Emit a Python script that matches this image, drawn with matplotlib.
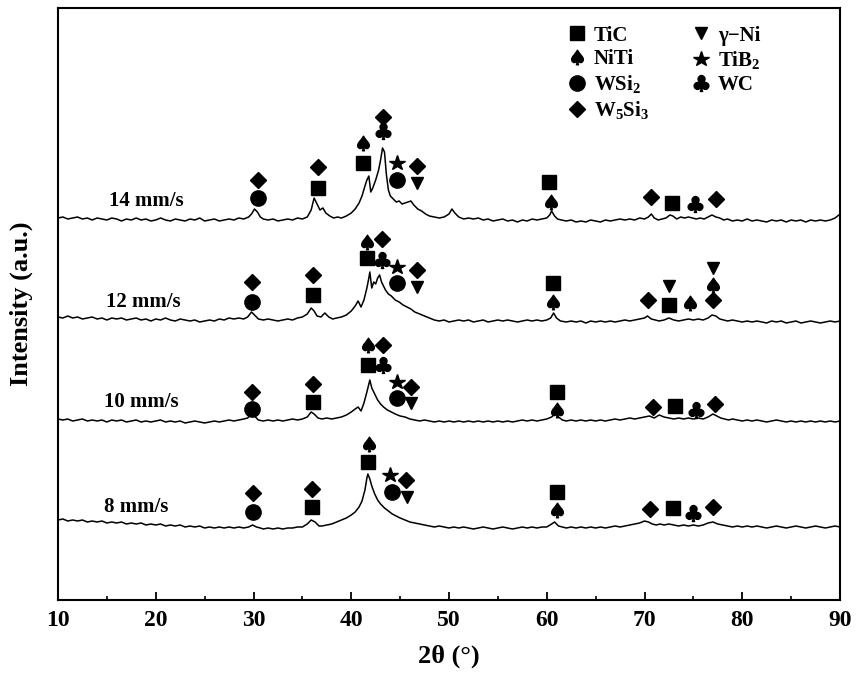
import numpy as np
import matplotlib
matplotlib.use("Agg")
import matplotlib.pyplot as plt
from matplotlib.textpath import TextPath
from matplotlib.font_manager import FontProperties
from matplotlib.path import Path
from matplotlib.lines import Line2D
from matplotlib.ticker import MultipleLocator

plt.rcParams['font.family'] = ['Liberation Serif', 'DejaVu Serif']
plt.rcParams['font.weight'] = 'bold'
plt.rcParams['mathtext.fontset'] = 'custom'
plt.rcParams['mathtext.rm'] = 'Liberation Serif:bold'
plt.rcParams['mathtext.bf'] = 'Liberation Serif:bold'
plt.rcParams['mathtext.it'] = 'Liberation Serif:bold:italic'
plt.rcParams['mathtext.default'] = 'bf'

# ---------------- data (2theta, intensity a.u.) ----------------
pts_14 = [(10,382),(10.5,383),(11,381),(11.5,382),(12,383),(12.5,381),(13,382),(13.5,380),(14,382),(14.5,381),
          (15,380),(15.5,382),(16,381),(16.5,379),(17,381),(17.5,380),(18,382),(18.5,380),(19,381),(19.5,379),
          (20,380),(20.5,382),(21,380),(21.5,379),(22,381),(22.5,380),(23,379),(23.5,381),(24,380),(24.5,382),
          (25,379),(25.5,380),(26,381),(26.5,379),(27,380),(27.5,381),(28,380),(28.5,382),(29,381),(29.5,383),
          (29.8,386),(30.1,391),(30.4,388),(30.7,383),(31,381),(31.5,380),(32,381),(32.5,379),(33,380),(33.5,381),
          (34,380),(34.5,382),(35,381),(35.5,383),(35.9,390),(36.2,402),(36.5,396),(36.8,390),(37.1,392),(37.4,387),
          (37.8,384),(38.2,382),(38.6,383),(39,382),(39.5,384),(40,387),(40.4,391),(40.8,397),(41.1,404),(41.4,414),
          (41.6,420),(41.8,424),(42.0,408),(42.2,412),(42.5,420),(42.8,430),(43.0,440),(43.2,452),(43.4,448),(43.6,425),
          (43.8,410),(44.0,404),(44.3,401),(44.6,398),(44.9,399),(45.2,396),(45.5,397),(45.8,398),(46.1,399),(46.4,395),
          (46.8,391),(47.2,389),(47.6,386),(48,384),(48.5,383),(49,382),(49.5,383),(50,386),(50.3,391),(50.6,387),
          (51,383),(51.5,381),(52,382),(52.5,381),(53,382),(53.5,380),(54,381),(54.5,379),(55,380),(55.5,381),
          (56,379),(56.5,380),(57,378),(57.5,380),(58,379),(58.5,381),(59,380),(59.5,381),(60,382),(60.3,385),
          (60.5,389),(60.8,384),(61.1,381),(61.5,380),(62,379),(62.5,380),(63,378),(63.5,379),(64,378),(64.5,380),
          (65,379),(65.5,378),(66,380),(66.5,379),(67,380),(67.5,381),(68,380),(68.5,381),(69,380),(69.5,382),
          (70,381),(70.4,383),(70.7,386),(71,382),(71.4,380),(71.8,381),(72.2,382),(72.6,385),(72.9,384),(73.3,381),
          (73.7,383),(74.1,382),(74.5,383),(74.9,382),(75.3,381),(75.7,382),(76.1,381),(76.5,383),(76.9,385),(77.3,383),
          (77.7,382),(78.1,380),(78.5,381),(79,379),(79.5,380),(80,379),(80.5,381),(81,379),(81.5,380),(82,379),
          (82.5,378),(83,380),(83.5,379),(84,380),(84.5,378),(85,380),(85.5,379),(86,380),(86.5,378),(87,380),
          (87.5,379),(88,380),(88.5,379),(89,380),(89.5,382),(90,386)]

pts_12 = [(10,283),(10.5,282),(11,284),(11.5,282),(12,283),(12.5,281),(13,282),(13.5,283),(14,281),(14.5,282),
          (15,280),(15.5,282),(16,281),(16.5,282),(17,280),(17.5,281),(18,282),(18.5,280),(19,281),(19.5,279),
          (20,281),(20.5,280),(21,282),(21.5,280),(22,279),(22.5,281),(23,280),(23.5,279),(24,280),(24.5,278),
          (25,279),(25.5,280),(26,279),(26.5,281),(27,280),(27.5,282),(28,281),(28.5,282),(29,281),(29.4,283),
          (29.8,288),(30.1,285),(30.5,281),(31,280),(31.5,281),(32,280),(32.5,279),(33,280),(33.5,281),(34,280),
          (34.5,282),(35,283),(35.5,286),(35.9,292),(36.2,289),(36.5,284),(36.9,283),(37.3,287),(37.7,283),(38.1,281),
          (38.5,282),(39,283),(39.5,285),(40,289),(40.4,294),(40.7,299),(41.0,293),(41.3,300),(41.6,312),(41.8,322),
          (41.9,328),(42.1,312),(42.3,318),(42.5,316),(42.7,322),(42.9,325),(43.1,318),(43.3,314),(43.5,310),(43.8,306),
          (44.1,304),(44.5,300),(44.9,298),(45.3,295),(45.7,293),(46.1,291),(46.5,288),(47,286),(47.5,284),(48,282),
          (48.5,280),(49,279),(49.5,280),(50,278),(50.5,279),(51,280),(51.5,279),(52,280),(52.5,278),(53,279),
          (53.5,280),(54,278),(54.5,279),(55,280),(55.5,279),(56,280),(56.5,279),(57,278),(57.5,279),(58,280),
          (58.5,279),(59,280),(59.5,279),(60,280),(60.4,282),(60.7,287),(61,282),(61.4,279),(62,278),(62.5,279),
          (63,278),(63.5,279),(64,277),(64.5,279),(65,278),(65.5,279),(66,278),(66.5,279),(67,278),(67.5,279),
          (68,280),(68.5,279),(69,280),(69.5,281),(70,282),(70.3,284),(70.7,281),(71.1,280),(71.5,279),(72,280),
          (72.5,282),(73,280),(73.5,279),(74,280),(74.5,281),(75,280),(75.5,281),(76,280),(76.5,282),(76.9,285),
          (77.3,284),(77.7,281),(78.1,280),(78.5,279),(79,280),(79.5,279),(80,278),(80.5,279),(81,278),(81.5,279),
          (82,278),(82.5,277),(83,279),(83.5,278),(84,279),(84.5,277),(85,278),(85.5,279),(86,277),(86.5,278),
          (87,279),(87.5,278),(88,277),(88.5,278),(89,279),(89.5,278),(90,279)]

pts_10 = [(10,181),(10.5,180),(11,181),(11.5,179),(12,180),(12.5,181),(13,179),(13.5,180),(14,179),(14.5,180),
          (15,178),(15.5,180),(16,179),(16.5,180),(17,178),(17.5,179),(18,180),(18.5,178),(19,179),(19.5,178),
          (20,179),(20.5,180),(21,178),(21.5,179),(22,178),(22.5,179),(23,177),(23.5,178),(24,179),(24.5,178),
          (25,177),(25.5,178),(26,179),(26.5,178),(27,179),(27.5,180),(28,179),(28.5,180),(29,181),(29.4,182),
          (29.8,186),(30.1,184),(30.5,180),(31,179),(31.5,180),(32,179),(32.5,180),(33,179),(33.5,180),(34,181),
          (34.5,180),(35,181),(35.5,183),(35.9,188),(36.2,186),(36.6,182),(37,181),(37.5,182),(38,181),(38.5,182),
          (39,183),(39.5,185),(40,188),(40.4,191),(40.7,193),(41.0,189),(41.3,197),(41.6,208),(41.9,220),(42.1,212),
          (42.4,206),(42.7,200),(43.0,196),(43.3,193),(43.7,190),(44.1,188),(44.5,186),(45,184),(45.5,183),(46,181),
          (46.5,180),(47,179),(47.5,180),(48,179),(48.5,178),(49,179),(49.5,178),(50,179),(50.5,178),(51,179),
          (51.5,178),(52,179),(52.5,178),(53,179),(53.5,178),(54,179),(54.5,178),(55,179),(55.5,178),(56,179),
          (56.5,178),(57,179),(57.5,180),(58,179),(58.5,180),(59,179),(59.5,180),(60,181),(60.5,183),(60.9,187),
          (61.2,183),(61.6,180),(62,179),(62.5,180),(63,179),(63.5,180),(64,179),(64.5,180),(65,179),(65.5,180),
          (66,179),(66.5,180),(67,181),(67.5,180),(68,181),(68.5,182),(69,181),(69.5,182),(70,183),(70.5,184),
          (71,182),(71.5,185),(72,183),(72.5,182),(73,181),(73.5,182),(74,181),(74.5,182),(75,181),(75.5,182),
          (76,181),(76.5,183),(77,186),(77.4,184),(77.8,182),(78.2,181),(78.6,180),(79,181),(79.5,180),(80,179),
          (80.5,180),(81,179),(81.5,180),(82,179),(82.5,178),(83,179),(83.5,180),(84,179),(84.5,178),(85,179),
          (85.5,178),(86,179),(86.5,178),(87,179),(87.5,178),(88,179),(88.5,178),(89,179),(89.5,178),(90,179)]

pts_8 = [(10,80),(10.5,81),(11,79),(11.5,80),(12,79),(12.5,80),(13,78),(13.5,79),(14,78),(14.5,79),
         (15,77),(15.5,78),(16,77),(16.5,78),(17,76),(17.5,77),(18,76),(18.5,77),(19,75),(19.5,76),
         (20,75),(20.5,76),(21,74),(21.5,75),(22,74),(22.5,75),(23,73),(23.5,74),(24,73),(24.5,74),
         (25,72),(25.5,73),(26,72),(26.5,73),(27,72),(27.5,73),(28,72),(28.5,73),(29,72),(29.5,73),
         (29.9,75),(30.3,73),(30.7,72),(31,71),(31.5,72),(32,71),(32.5,72),(33,71),(33.5,72),(34,72),
         (34.5,73),(35,73),(35.5,76),(35.9,80),(36.3,78),(36.7,74),(37,74),(37.5,75),(38,76),(38.5,78),
         (39,80),(39.5,82),(40,85),(40.4,88),(40.8,93),(41.1,99),(41.4,110),(41.6,122),(41.7,126),(41.9,121),
         (42.1,114),(42.4,106),(42.7,100),(43,96),(43.4,92),(43.8,89),(44.2,86),(44.6,84),(45,82),(45.5,80),
         (46,78),(46.5,77),(47,76),(47.5,75),(48,74),(48.5,73),(49,74),(49.5,73),(50,72),(50.5,73),
         (51,72),(51.5,73),(52,72),(52.5,71),(53,72),(53.5,73),(54,72),(54.5,71),(55,72),(55.5,73),
         (56,72),(56.5,71),(57,72),(57.5,73),(58,72),(58.5,73),(59,72),(59.5,73),(60,73),(60.5,76),
         (60.8,78),(61.2,74),(61.6,73),(62,72),(62.5,73),(63,72),(63.5,73),(64,72),(64.5,73),(65,72),
         (65.5,73),(66,72),(66.5,73),(67,74),(67.5,73),(68,74),(68.5,75),(69,76),(69.5,77),(70,79),
         (70.4,78),(70.8,76),(71.2,75),(71.6,76),(72,75),(72.5,76),(73,75),(73.5,74),(74,75),(74.5,74),
         (75,75),(75.5,74),(76,75),(76.5,77),(77,78),(77.5,76),(78,75),(78.5,74),(79,73),(79.5,74),
         (80,73),(80.5,74),(81,73),(81.5,74),(82,73),(82.5,72),(83,73),(83.5,74),(84,73),(84.5,72),
         (85,73),(85.5,74),(86,73),(86.5,72),(87,73),(87.5,74),(88,73),(88.5,72),(89,73),(89.5,74),(90,73)]

curve_labels = ["14 mm/s", "12 mm/s", "10 mm/s", "8 mm/s"]
label_pos = [(15.2, 399), (14.9, 298), (14.7, 198), (14.7, 93)]

# phase marker positions (2theta, intensity)
TiC = [(36.6,412),(41.2,437),(60.25,418),(72.8,397),
       (36.1,305),(41.6,342),(60.6,317),(72.5,295),
       (36.1,198),(41.7,235),(61.05,208),(73.1,194),
       (36.0,93),(41.7,138),(61.05,108),(72.9,92)]
NiTi = [(41.2,457),(60.4,398),
        (41.6,358),(60.6,298),(74.65,297),(77.0,315),
        (41.7,255),(61.05,190),
        (41.8,156),(61.05,90)]
WSi2 = [(30.46,402),(44.7,420),(29.85,298),(44.7,317),(29.85,191),(44.7,202),(29.95,88),(44.17,108)]
W5Si3 = [(30.46,420),(36.6,433),(43.25,483),(46.7,434),(70.66,403),(77.3,401),
         (29.85,318),(36.1,325),(43.15,361),(46.7,330),(70.36,300),(77.0,300),
         (29.85,208),(36.1,216),(43.25,255),(46.1,213),(70.87,193),(77.2,196),
         (29.95,107),(36.0,111),(45.6,120),(70.56,91),(77.0,93)]
gNi = [(46.7,417),(46.7,313),(72.5,314),(77.0,332),(46.1,197),(45.7,103)]
TiB2 = [(44.7,437),(44.7,333),(44.7,218),(43.96,125)]
WC = [(43.25,469),(75.2,396),(43.15,340),(43.25,235),(75.3,190),(75.0,87)]

phase_labels = ["TiC", "NiTi", "WSi$_2$", "W$_5$Si$_3$", "γ−Ni", "TiB$_2$", "WC"]


def glyph_marker(ch):
    tp = TextPath((0, 0), ch, prop=FontProperties(family='DejaVu Sans'), size=1)
    verts = np.array(tp.vertices, dtype=float)
    codes = np.array(tp.codes)
    for i in range(len(codes)):
        if codes[i] == Path.CLOSEPOLY and i > 0:
            verts[i] = verts[i - 1]
    real = codes != Path.CLOSEPOLY
    x0, y0 = verts[real].min(axis=0)
    x1, y1 = verts[real].max(axis=0)
    verts -= np.array([(x0 + x1) / 2, (y0 + y1) / 2])
    return Path(verts, codes)


spade = glyph_marker('\u2660')
club = glyph_marker('\u2663')

phase_data = [TiC, NiTi, WSi2, W5Si3, gNi, TiB2, WC]
phase_style = [('s', 10), (spade, 10.5), ('o', 11), ('D', 8), ('v', 9), ('*', 11.5), (club, 11.5)]

fig = plt.figure(figsize=(8.56, 6.74), dpi=100)
ax = fig.add_axes([58/856, 1 - 600/674, 782/856, 592/674])

for pts in [pts_14, pts_12, pts_10, pts_8]:
    x, y = zip(*pts)
    ax.plot(x, y, color='black', lw=1.1)

for (txt, (lx, ly)) in zip(curve_labels, label_pos):
    ax.text(lx, ly, txt, fontsize=15, fontweight='bold', ha='left', va='center')

handles = []
for pdata, (m, ms) in zip(phase_data, phase_style):
    x, y = zip(*pdata)
    ax.plot(x, y, linestyle='none', marker=m, markersize=ms, color='black', mec='black')
    handles.append(Line2D([], [], linestyle='none', marker=m, markersize=ms, color='black'))

ax.legend(handles, phase_labels, ncol=2, frameon=False, fontsize=15, loc='upper left',
          bbox_to_anchor=(0.632, 0.995), handlelength=1.0, handletextpad=0.3,
          columnspacing=2.0, labelspacing=0.18, borderaxespad=0.3)

ax.set_xlim(10, 90)
ax.set_ylim(0, 592)
ax.xaxis.set_major_locator(MultipleLocator(10))
ax.xaxis.set_minor_locator(MultipleLocator(5))
ax.tick_params(axis='x', which='major', direction='in', length=6, width=1.3,
               labelsize=17, pad=7, top=False)
ax.tick_params(axis='x', which='minor', direction='in', length=3, width=1.2, top=False)
ax.set_yticks([])
for lab in ax.get_xticklabels():
    lab.set_fontweight('bold')
for sp in ax.spines.values():
    sp.set_linewidth(1.5)

ax.set_xlabel("2θ (°)", fontsize=19, fontweight='bold', labelpad=10)
ax.set_ylabel("Intensity (a.u.)", fontsize=19, fontweight='bold', labelpad=18)

fig.savefig("out.png", dpi=100)
